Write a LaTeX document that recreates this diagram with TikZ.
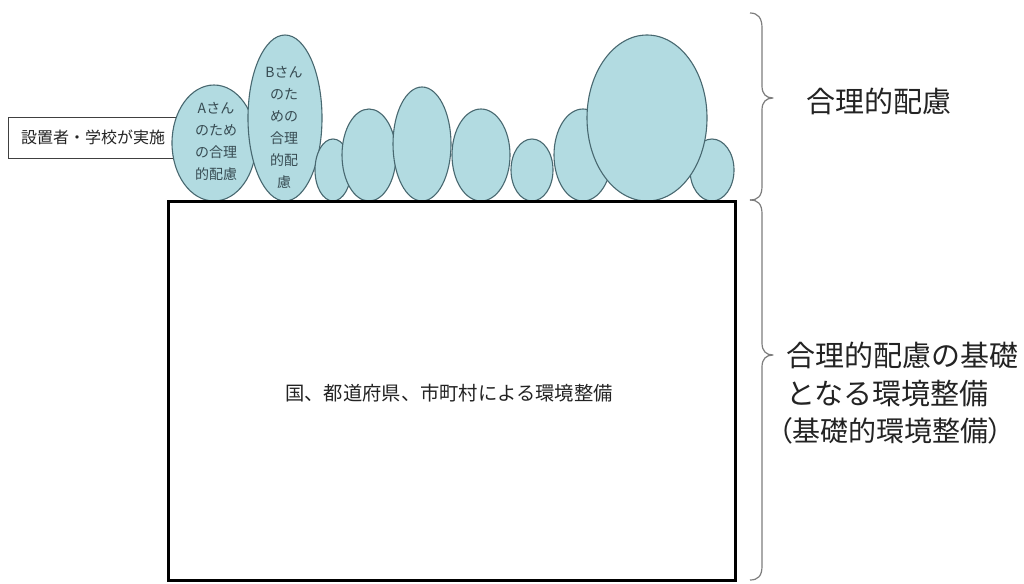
\documentclass[tikz,border=0pt]{standalone}
\usepackage{fontspec}
\setmainfont{Noto Sans CJK JP}
\newfontfamily\jpprop[RawFeature=+palt]{Noto Sans CJK JP}
\usetikzlibrary{shapes.geometric}
\definecolor{bubble}{RGB}{178,219,225}
\definecolor{bubbleline}{RGB}{72,104,112}
\definecolor{bubbletext}{RGB}{55,75,82}
\definecolor{bracegray}{RGB}{125,125,125}
\definecolor{labeltext}{RGB}{35,35,35}
\begin{document}
\begin{tikzpicture}[x=1pt,y=-1pt,
  bub/.style={ellipse,fill=bubble,draw=bubbleline,line width=1.1pt,inner sep=0pt},
  btext/.style={text=bubbletext,align=center,inner sep=0pt,font=\fontsize{14}{22}\selectfont},
  bigtext/.style={text=labeltext,anchor=west,inner sep=0pt,font=\fontsize{29}{29}\selectfont},
  bracepath/.style={draw=bracegray,line width=1.2pt,line join=round}]
\useasboundingbox[fill=white] (0,0) rectangle (1024,583);

% label box
\node[draw=black!75,line width=0.9pt,minimum width=170,minimum height=41,inner sep=0pt,
      font=\fontsize{16}{16}\selectfont,text=labeltext] (who) at (93,137.5) {設置者・学校が実施};

% bubbles
\node[bub,minimum width=84,minimum height=116] (A) at (214,143) {};
\node[bub,minimum width=74,minimum height=166] (B) at (285,118) {};
\node[bub,minimum width=36,minimum height=62] (e1) at (333,170) {};
\node[bub,minimum width=54,minimum height=92] (e2) at (369,155) {};
\node[bub,minimum width=58,minimum height=114] (e3) at (422,144) {};
\node[bub,minimum width=58,minimum height=92] (e4) at (481,155) {};
\node[bub,minimum width=42,minimum height=62] (e5) at (532,170) {};
\node[bub,minimum width=58,minimum height=92] (e6) at (583,155) {};
\node[bub,minimum width=44,minimum height=62] (e8) at (712,170) {};
\node[bub,minimum width=120,minimum height=166] (e7) at (647,118) {};

\node[btext] (Atext) at (216,141.5) {Aさん\\のため\\の合理\\的配慮};
\node[btext] (Btext) at (284,127) {Bさん\\のた\\めの\\合理\\的配\\慮};

% base rectangle
\node[draw=black,line width=3pt,minimum width=567,minimum height=379,inner sep=0pt] (base) at (451.5,390.5) {};
\node[text=labeltext,inner sep=0pt,font=\fontsize{19.3}{19.3}\selectfont] (basetext) at (449,393) {国、都道府県、市町村による環境整備};

% braces
\coordinate (b0) at (750,13);
\coordinate (b1) at (750,200);
\coordinate (b2) at (750,580);
\coordinate (t1) at (773,98);
\coordinate (t2) at (773,355);
\path[bracepath] (b0) .. controls (758,13) and (762,18) .. (762,28) -- (762,86)
  .. controls (762,94) and (766,98) .. (t1)
  .. controls (766,98) and (762,102) .. (762,110) -- (762,186)
  .. controls (762,196) and (758,200) .. (b1);
\path[bracepath] (b1) .. controls (758,200) and (762,204) .. (762,214) -- (762,343)
  .. controls (762,351) and (766,355) .. (t2)
  .. controls (766,355) and (762,359) .. (762,367) -- (762,566)
  .. controls (762,576) and (758,580) .. (b2);

% right labels
\node[bigtext] (rl) at (806,101) {合理的配慮};
\node[bigtext] (kl1) at (786,355) {合理的配慮の基礎};
\node[bigtext] (kl2) at (786,393) {となる環境整備};
\node[bigtext,font=\fontsize{28}{28}\jpprop] (kl3) at (778,431) {（基礎的環境整備）};
\end{tikzpicture}
\end{document}
